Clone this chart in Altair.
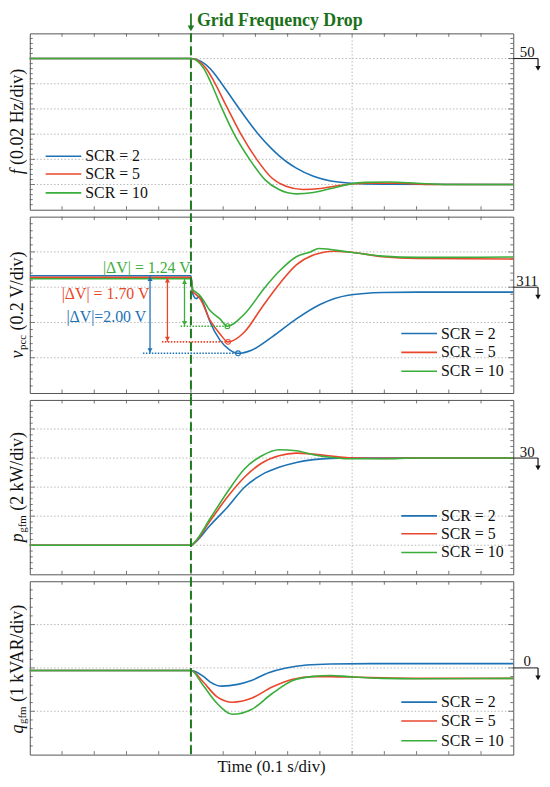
import altair as alt
import numpy as np
import pandas as pd

SERIF = "Liberation Serif"
SERIES = ["SCR = 2", "SCR = 5", "SCR = 10"]
COLORS = ["#1c72b4", "#e8472c", "#3aad3a"]
DARK_GREEN = "#1f7a1f"
FRAME = "#555555"
GRID = "#b0b0b0"

# ---------------- Panel 1 : grid frequency f (Hz) ----------------
f_t_scr2 = [0, 0.5, 0.53, 0.56, 0.58, 0.61, 0.645, 0.709, 0.75, 0.773, 0.80, 0.827, 0.88, 0.934, 0.988, 1.095, 1.5]
f_scr2 = [50, 50, 49.998, 49.9919, 49.9856, 49.9748, 49.962, 49.940, 49.9285, 49.923, 49.9175, 49.913, 49.9065, 49.9028, 49.9012, 49.9002, 49.900]
f_t_scr5 = [0, 0.5, 0.53, 0.55, 0.57, 0.6125, 0.655, 0.704, 0.752, 0.795, 0.848, 0.902, 0.966, 1.041, 1.148, 1.25, 1.5]
f_scr5 = [50, 50, 49.9968, 49.9911, 49.9825, 49.961, 49.940, 49.920, 49.905, 49.8986, 49.896, 49.8968, 49.8994, 49.901, 49.901, 49.900, 49.900]
f_t_scr10 = [0, 0.5, 0.52, 0.54, 0.56, 0.591, 0.634, 0.682, 0.730, 0.773, 0.827, 0.880, 0.934, 0.988, 1.041, 1.116, 1.202, 1.3, 1.5]
f_scr10 = [50, 50, 49.998, 49.992, 49.982, 49.9634, 49.940, 49.920, 49.9037, 49.896, 49.8926, 49.8937, 49.8968, 49.9001, 49.9017, 49.902, 49.901, 49.900, 49.900]

# ---------------- Panel 2 : PCC voltage v_pcc (V) ----------------
v_t_scr2 = [0, 0.5, 0.506, 0.517, 0.526, 0.54, 0.56, 0.59, 0.62, 0.646, 0.688, 0.752, 0.827, 0.902, 0.988, 1.095, 1.202, 1.5]
v_scr2 = [311.065, 311.065, 310.96, 310.935, 310.95, 310.90, 310.80, 310.70, 310.645, 310.625, 310.643, 310.718, 310.82, 310.903, 310.954, 310.97, 310.972, 310.972]
v_t_scr5 = [0, 0.5, 0.506, 0.514, 0.529, 0.56, 0.59, 0.615, 0.666, 0.720, 0.773, 0.827, 0.880, 0.944, 0.988, 1.095, 1.202, 1.5]
v_scr5 = [311.056, 311.056, 310.975, 310.961, 310.933, 310.81, 310.735, 310.69, 310.746, 310.885, 311.015, 311.126, 311.182, 311.204, 311.2, 311.173, 311.163, 311.16]
v_t_scr10 = [0, 0.5, 0.506, 0.514, 0.529, 0.56, 0.59, 0.613, 0.666, 0.730, 0.773, 0.827, 0.870, 0.897, 0.988, 1.095, 1.202, 1.5]
v_scr10 = [311.048, 311.048, 310.985, 310.974, 310.95, 310.866, 310.82, 310.779, 310.848, 311.0, 311.089, 311.173, 311.2, 311.219, 311.2, 311.176, 311.169, 311.171]

# voltage-dip annotations
dv_arrow_t = [0.373, 0.427, 0.480]
dv_top = [311.065, 311.056, 311.048]
dv_min_t = [0.646, 0.615, 0.613]
dv_min_v = [310.625, 310.69, 310.779]
dv_guide_t = [0.351, 0.41, 0.468]
dv_label = ["|ΔV|=2.00 V", "|ΔV| = 1.70 V", "|ΔV| = 1.24 V"]
dv_label_t = [0.361, 0.371, 0.499]
dv_label_v = [310.833, 310.959, 311.1075]

# ---------------- Panel 3 : active power p_gfm (kW) ----------------
p_t = [0, 0.5, 0.511, 0.559, 0.6125, 0.666, 0.72, 0.773, 0.827, 0.88, 0.934, 0.988, 1.095, 1.202, 1.5]
p_scr2 = [24, 24, 24.15, 25.36, 26.6, 27.99, 28.86, 29.36, 29.7, 29.89, 29.98, 30.0, 30.0, 30.0, 30.0]
p_scr5 = [24, 24, 24.17, 25.66, 27.3, 28.68, 29.66, 30.16, 30.34, 30.27, 30.14, 30.02, 29.98, 30.0, 30.0]
p_scr10 = [24, 24, 24.2, 25.82, 27.65, 29.25, 30.16, 30.57, 30.5, 30.23, 30.05, 29.95, 29.95, 30.0, 30.0]

# ---------------- Panel 4 : reactive power q_gfm (kVAR) ----------------
q_t_scr2 = [0, 0.5, 0.5375, 0.559, 0.596, 0.645, 0.6876, 0.741, 0.795, 0.859, 0.934, 1.095, 1.5]
q_scr2 = [-0.06, -0.06, -0.19, -0.32, -0.42, -0.38, -0.29, -0.11, 0.0, 0.068, 0.09, 0.1, 0.1]
q_t = [0, 0.5, 0.5375, 0.58, 0.629, 0.6876, 0.752, 0.816, 0.880, 0.934, 0.988, 1.095, 1.202, 1.5]
q_scr5 = [-0.06, -0.06, -0.32, -0.66, -0.79, -0.70, -0.44, -0.26, -0.20, -0.20, -0.21, -0.23, -0.24, -0.24]
q_scr10 = [-0.06, -0.06, -0.40, -0.81, -1.07, -0.96, -0.59, -0.29, -0.195, -0.175, -0.20, -0.24, -0.25, -0.24]

EVENT_T = 0.5

W = 488
HEIGHTS = [178, 178, 176, 175]
XS = alt.Scale(domain=[0, 1.5], nice=False, zero=False)
ONE = pd.DataFrame({"_": [0]})


def series_layers(ys, ts, vs):
    out = []
    for t, v, c in zip(ts, vs, COLORS):
        df = pd.DataFrame({"t": t, "v": v})
        out.append(
            alt.Chart(df).mark_line(strokeWidth=1.6, interpolate="monotone", color=c).encode(
                x=alt.X("t:Q", scale=XS, axis=None),
                y=alt.Y("v:Q", scale=ys, axis=None),
            )
        )
    return out


def frame_layers(H, ys, domain, div):
    lo, hi = domain
    n = int(round((hi - lo) / div))
    major = [lo + k * div for k in range(1, n)]
    minor = [lo + k * div / 5 for k in range(1, n * 5) if k % 5]
    xt = [round(0.1 * k, 2) for k in range(1, 15)]
    L = []
    L.append(alt.Chart(pd.DataFrame({"g": major})).mark_rule(color=GRID, strokeWidth=0.9, strokeDash=[1.5, 2]).encode(
        y=alt.Y("g:Q", scale=ys, axis=None)))
    L.append(alt.Chart(pd.DataFrame({"g": [0.5, 1.0]})).mark_rule(color=GRID, strokeWidth=0.9, strokeDash=[1.5, 2]).encode(
        x=alt.X("g:Q", scale=XS, axis=None)))
    xdf = pd.DataFrame({"g": xt})
    L.append(alt.Chart(xdf).mark_rule(color=FRAME, strokeWidth=0.8).encode(
        x=alt.X("g:Q", scale=XS, axis=None), y=alt.value(0), y2=alt.value(3.5)))
    L.append(alt.Chart(xdf).mark_rule(color=FRAME, strokeWidth=0.8).encode(
        x=alt.X("g:Q", scale=XS, axis=None), y=alt.value(H), y2=alt.value(H - 3.5)))
    for vals, ln in ((major, 5), (minor, 3)):
        d = pd.DataFrame({"g": vals})
        L.append(alt.Chart(d).mark_rule(color=FRAME, strokeWidth=0.8).encode(
            y=alt.Y("g:Q", scale=ys, axis=None), x=alt.value(0), x2=alt.value(ln)))
        L.append(alt.Chart(d).mark_rule(color=FRAME, strokeWidth=0.8).encode(
            y=alt.Y("g:Q", scale=ys, axis=None), x=alt.value(W), x2=alt.value(W - ln)))
    return L


def legend_layers(H, x0, rows):
    L = []
    for s, c, r in zip(SERIES, COLORS, rows):
        y = H + r
        L.append(alt.Chart(ONE).mark_rule(color=c, strokeWidth=1.6).encode(
            x=alt.value(x0), x2=alt.value(x0 + 36), y=alt.value(y)))
        L.append(alt.Chart(ONE).mark_text(text=s, align="left", baseline="middle", font=SERIF,
                                          fontSize=16, color="#111").encode(
            x=alt.value(x0 + 40), y=alt.value(y)))
    return L


def level_layers(ys, level, label):
    d = alt.Chart(pd.DataFrame({"lv": [level], "lab": [label]}))
    Y = alt.Y("lv:Q", scale=ys, axis=None)
    return [
        d.mark_rule(color="#111", strokeWidth=1).encode(
            x=alt.value(W), x2=alt.value(W + 25), y=Y),
        d.mark_rule(color="#111", strokeWidth=1.2, y2Offset=9).encode(
            x=alt.value(W + 25), y=Y, y2="lv:Q"),
        d.mark_point(shape="triangle-down", filled=True, size=30, yOffset=10,
                     color="#111", opacity=1).encode(x=alt.value(W + 25), y=Y),
        d.mark_text(align="center", baseline="alphabetic", dy=-1.5,
                    font=SERIF, fontSize=15, color="#111").encode(
            x=alt.value(W + 14), y=Y, text="lab:N"),
    ]


def title_layers(H, parts):
    # parts: (text, fontSize, italic, xoff, width, gap_after)
    total = sum(p[4] + p[5] for p in parts)
    y = H / 2 + total / 2
    L = []
    for text, fs, ital, xoff, w, gap in parts:
        kw = dict(text=text, angle=270, align="left", baseline="middle", font=SERIF,
                  fontSize=fs, color="#111")
        if ital:
            kw["fontStyle"] = "italic"
        L.append(alt.Chart(ONE).mark_text(**kw).encode(x=alt.value(-12 + xoff), y=alt.value(y)))
        y -= w + gap
    return L


EVENT_DF = pd.DataFrame({"t": [EVENT_T]})


def event_line(top, bottom):
    return alt.Chart(EVENT_DF).mark_rule(color=DARK_GREEN, strokeWidth=2, strokeDash=[9, 4]).encode(
        x=alt.X("t:Q", scale=XS, axis=None), y=alt.value(top), y2=alt.value(bottom))


def build_panel(idx, ts, vs, domain, div, level, label, parts, legend_x, legend_rows, extras):
    H = HEIGHTS[idx]
    ys = alt.Scale(domain=list(domain), nice=False, zero=False)
    top = 0 if idx == 0 else -3.5
    bottom = H if idx == 3 else H + 3.5
    layers = frame_layers(H, ys, domain, div)
    layers += series_layers(ys, ts, vs)
    layers.append(event_line(top, bottom))
    layers += extras(H, ys)
    layers += legend_layers(H, legend_x, legend_rows)
    layers += level_layers(ys, level, label)
    layers += title_layers(H, parts)
    return alt.layer(*layers).properties(width=W, height=H)


def extras_p1(H, ys):
    X = alt.X("t:Q", scale=XS, axis=None)
    e = alt.Chart(EVENT_DF)
    return [
        e.mark_rule(color=DARK_GREEN, strokeWidth=1.8).encode(
            x=X, y=alt.value(-20), y2=alt.value(-7)),
        e.mark_point(shape="triangle-down", filled=True, size=45, color=DARK_GREEN,
                     opacity=1).encode(x=X, y=alt.value(-5)),
        e.mark_text(text="Grid Frequency Drop", align="left", baseline="middle",
                    font=SERIF, fontSize=18, fontWeight="bold", color="#1b701b",
                    dx=6).encode(x=X, y=alt.value(-12.5)),
    ]


def extras_p2(H, ys):
    L = []
    for i, c in enumerate(COLORS):
        d = pd.DataFrame({
            "at": [dv_arrow_t[i]], "top": [dv_top[i]], "mt": [dv_min_t[i]], "mv": [dv_min_v[i]],
            "gt": [dv_guide_t[i]], "lab": [dv_label[i]], "lt": [dv_label_t[i]], "lv": [dv_label_v[i]],
        })
        base = alt.Chart(d)
        L.append(base.mark_rule(color=c, strokeWidth=1.6, strokeDash=[1.5, 1.5]).encode(
            x=alt.X("gt:Q", scale=XS, axis=None), x2="mt:Q", y=alt.Y("mv:Q", scale=ys, axis=None)))
        L.append(base.mark_rule(color=c, strokeWidth=1.3).encode(
            x=alt.X("at:Q", scale=XS, axis=None), y=alt.Y("top:Q", scale=ys, axis=None), y2="mv:Q"))
        L.append(base.mark_point(shape="triangle-up", filled=True, size=26, yOffset=3, color=c,
                                 opacity=1).encode(
            x=alt.X("at:Q", scale=XS, axis=None), y=alt.Y("top:Q", scale=ys, axis=None)))
        L.append(base.mark_point(shape="triangle-down", filled=True, size=26, yOffset=-3, color=c,
                                 opacity=1).encode(
            x=alt.X("at:Q", scale=XS, axis=None), y=alt.Y("mv:Q", scale=ys, axis=None)))
        L.append(base.mark_point(shape="circle", filled=False, size=24, strokeWidth=1.1, color=c,
                                 opacity=1).encode(
            x=alt.X("mt:Q", scale=XS, axis=None), y=alt.Y("mv:Q", scale=ys, axis=None)))
        L.append(base.mark_text(align="right", baseline="middle", font=SERIF, fontSize=16,
                                color=c).encode(
            x=alt.X("lt:Q", scale=XS, axis=None), y=alt.Y("lv:Q", scale=ys, axis=None), text="lab:N"))
    return L


def extras_p4(H, ys):
    return [
        alt.Chart(ONE).mark_text(text="Time (0.1 s/div)", align="center", baseline="middle",
                                 font=SERIF, fontSize=17, color="#111").encode(
            x=alt.value(W / 2), y=alt.value(H + 12.5)),
    ]


def no_extras(H, ys):
    return []


p1 = build_panel(0, [f_t_scr2, f_t_scr5, f_t_scr10], [f_scr2, f_scr5, f_scr10],
                 (49.88, 50.02), 0.02, 50.0, "50",
                 [("f", 18, True, 0, 5.0, 4.5), ("(0.02 Hz/div)", 18, False, 0, 97, 0)],
                 16, [-54, -36, -17], extras_p1)
p2 = build_panel(1, [v_t_scr2, v_t_scr5, v_t_scr10], [v_scr2, v_scr5, v_scr10],
                 (310.4, 311.4), 0.2, 311.0, "311",
                 [("v", 18, True, 0, 8.0, 0.5), ("pcc", 11, False, 5, 15.3, 4.5),
                  ("(0.2 V/div)", 18, False, 0, 80, 0)],
                 W - 113, [-60, -41, -22], extras_p2)
p3 = build_panel(2, [p_t, p_t, p_t], [p_scr2, p_scr5, p_scr10],
                 (22, 34), 2, 30, "30",
                 [("p", 18, True, 0, 9.0, 0.5), ("gfm", 11, False, 5, 17.7, 4.5),
                  ("(2 kW/div)", 18, False, 0, 79.5, 0)],
                 W - 113, [-59, -41, -22], no_extras)
p4 = build_panel(3, [q_t_scr2, q_t, q_t], [q_scr2, q_scr5, q_scr10],
                 (-2, 2), 1, 0, "0",
                 [("q", 18, True, 0, 9.0, 0.5), ("gfm", 11, False, 5, 17.7, 4.5),
                  ("(1 kVAR/div)", 18, False, 0, 100.5, 0)],
                 W - 113, [-53, -34, -14], extras_p4)

chart = alt.vconcat(p1, p2, p3, p4, spacing=7, bounds="flush").properties(
    padding={"left": 0, "top": 0, "right": 0, "bottom": 0}
).configure_view(stroke=FRAME, strokeWidth=1)

chart.save("out.html", embed_options={"renderer": "svg", "actions": False})
